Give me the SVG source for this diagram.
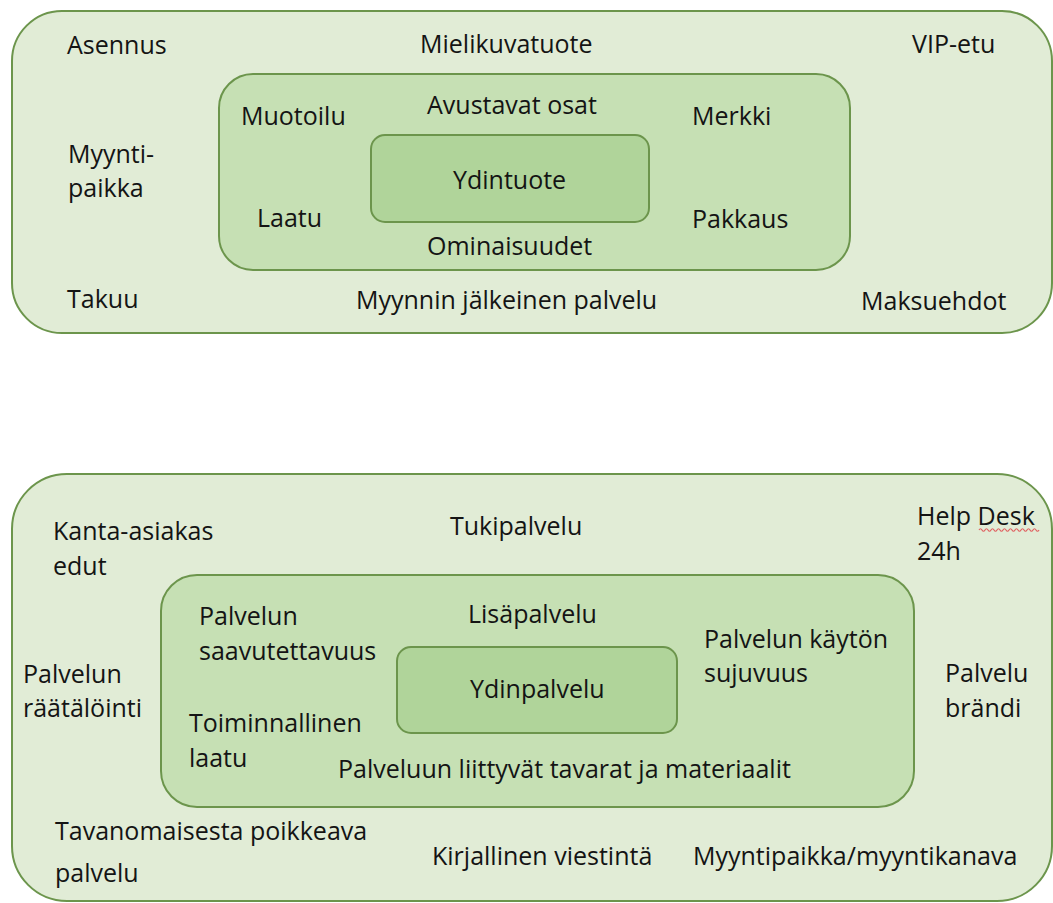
<svg xmlns="http://www.w3.org/2000/svg" width="1053" height="903" viewBox="0 0 1053 903">
<style>
.outer{fill:#e1ecd6;stroke:#6c954c;stroke-width:2}
.middle{fill:#c6e0b4;stroke:#6c954c;stroke-width:2}
.inner{fill:#b0d49a;stroke:#6c954c;stroke-width:2}
text{font-family:"Open Sans","Noto Sans","Liberation Sans",sans-serif;font-size:25px;fill:#141414}
.spell{fill:none;stroke:#e06060;stroke-width:1.2}
</style>
<rect width="1053" height="903" fill="#ffffff"/>
<g id="tuote-ulompi">
<rect class="outer" x="12" y="11" width="1040" height="322" rx="50"/>
<text x="67" y="54">Asennus</text>
<text x="420" y="53">Mielikuvatuote</text>
<text x="912" y="53">VIP-etu</text>
<text x="68" y="163">Myynti-</text>
<text x="68" y="197">paikka</text>
<text x="67" y="308">Takuu</text>
<text x="356" y="309">Myynnin jälkeinen palvelu</text>
<text x="861" y="310">Maksuehdot</text>
</g>
<g id="tuote-keski">
<rect class="middle" x="219" y="74" width="631" height="196" rx="34"/>
<text x="241" y="125">Muotoilu</text>
<text x="427" y="114">Avustavat osat</text>
<text x="692" y="125">Merkki</text>
<text x="257" y="227">Laatu</text>
<text x="692" y="228">Pakkaus</text>
<text x="427" y="255">Ominaisuudet</text>
</g>
<g id="ydintuote">
<rect class="inner" x="371" y="135" width="278" height="87" rx="14"/>
<text x="453" y="189">Ydintuote</text>
</g>
<g id="palvelu-ulompi">
<rect class="outer" x="12" y="474" width="1040" height="427" rx="55"/>
<text x="53" y="540">Kanta-asiakas</text>
<text x="53" y="575">edut</text>
<text x="450" y="535">Tukipalvelu</text>
<text x="917" y="525">Help Desk</text>
<path class="spell" d="M979,530 q1.5,-2.5 3,0 t3,0 t3,0 t3,0 t3,0 t3,0 t3,0 t3,0 t3,0 t3,0 t3,0 t3,0 t3,0 t3,0 t3,0 t3,0 t3,0 t3,0 t3,0 t3,0"/>
<text x="917" y="560">24h</text>
<text x="23" y="683">Palvelun</text>
<text x="23" y="717">räätälöinti</text>
<text x="945" y="682">Palvelu</text>
<text x="945" y="717">brändi</text>
<text x="55" y="840">Tavanomaisesta poikkeava</text>
<text x="55" y="882">palvelu</text>
<text x="432" y="865">Kirjallinen viestintä</text>
<text x="693" y="865">Myyntipaikka/myyntikanava</text>
</g>
<g id="palvelu-keski">
<rect class="middle" x="161" y="575" width="753" height="232" rx="36"/>
<text x="199" y="625">Palvelun</text>
<text x="199" y="660">saavutettavuus</text>
<text x="468" y="623">Lisäpalvelu</text>
<text x="704" y="648">Palvelun käytön</text>
<text x="704" y="682">sujuvuus</text>
<text x="189" y="732">Toiminnallinen</text>
<text x="189" y="767">laatu</text>
<text x="338" y="778">Palveluun liittyvät tavarat ja materiaalit</text>
</g>
<g id="ydinpalvelu">
<rect class="inner" x="397" y="647" width="280" height="86" rx="14"/>
<text x="470" y="698">Ydinpalvelu</text>
</g>
<g id="connectors"/>
</svg>
